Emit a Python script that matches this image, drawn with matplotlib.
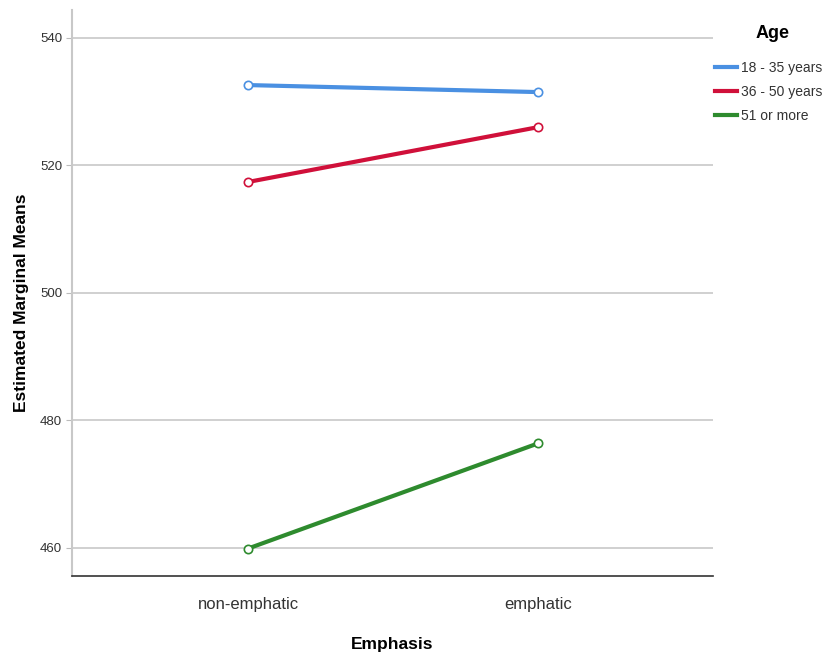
import matplotlib
matplotlib.use("Agg")
import matplotlib.pyplot as plt

plt.rcParams['font.family'] = ["Liberation Sans", "DejaVu Sans"]

categories = ["non-emphatic", "emphatic"]
series_names = ["18 - 35 years", "36 - 50 years", "51 or more"]
values_18_35 = [532.6, 531.5]
values_36_50 = [517.4, 526.0]
values_51 = [459.9, 476.4]
colors = ["#4a90e2", "#d0103a", "#2e8b2e"]
yticks = [460, 480, 500, 520, 540]

fig = plt.figure(figsize=(8.35, 6.56), dpi=100)
ax = fig.add_axes([0.0862, 0.122, 0.7677, 0.863])

x = list(range(len(categories)))
for vals, name, c in zip([values_18_35, values_36_50, values_51], series_names, colors):
    ax.plot(x, vals, color=c, lw=3, label=name, marker='o', ms=6,
            mfc='white', mec=c, mew=1.2, zorder=3)

ax.set_xlim(-0.607, 1.603)
ax.set_ylim(455.6, 544.4)
ax.set_yticks(yticks)
ax.set_yticklabels([str(t) for t in yticks], fontsize=9.5, color="#333333")
ax.set_xticks(x)
ax.set_xticklabels(categories, fontsize=12, color="#333333")
ax.tick_params(axis='x', length=0, pad=15)
ax.tick_params(axis='y', length=4, color="#bbbbbb", pad=3)
ax.yaxis.grid(True, color="#c8c8c8", lw=1.2)
ax.set_axisbelow(True)
for s in ["top", "right"]:
    ax.spines[s].set_visible(False)
ax.spines["left"].set_color("#c8c8c8")
ax.spines["left"].set_linewidth(1.5)
ax.spines["bottom"].set_color("#333333")
ax.spines["bottom"].set_linewidth(1.2)

fig.text(392 / 835, 1 - 645 / 656, "Emphasis", fontsize=12.5, fontweight='bold',
         ha='center', va='center')
fig.text(22 / 835, 1 - 303 / 656, "Estimated Marginal Means", fontsize=12.5,
         fontweight='bold', rotation=90, ha='center', va='center')
fig.text(773 / 835, 1 - 33 / 656, "Age", fontsize=13, fontweight='bold',
         ha='center', va='center')

leg = fig.legend(*ax.get_legend_handles_labels(), loc='upper left',
                 bbox_to_anchor=(715 / 835, 1 - 61 / 656), frameon=False,
                 fontsize=10, handlelength=1.6, handletextpad=0.25,
                 labelspacing=0.72, borderaxespad=0, borderpad=0)
for h in leg.legend_handles:
    h.set_marker('')
for t in leg.get_texts():
    t.set_color("#333333")

fig.savefig("out.png", dpi=100)
